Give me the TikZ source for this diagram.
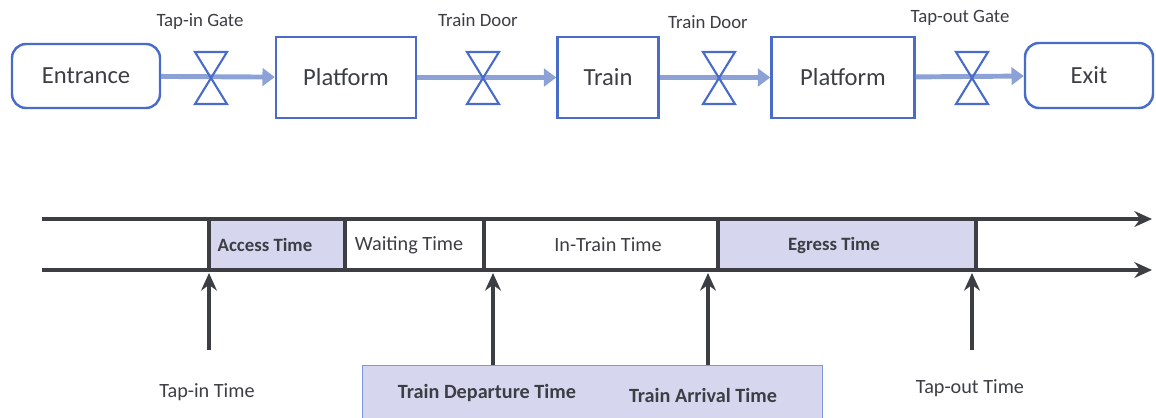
\documentclass[tikz,border=0pt]{standalone}
\usepackage{fontspec}
\setmainfont{Carlito}
\usepackage{tikz}
\usetikzlibrary{positioning,arrows.meta}
\definecolor{FlowBlue}{RGB}{72,108,200}
\definecolor{FlowArrow}{RGB}{140,162,214}
\definecolor{TimeGray}{RGB}{60,62,68}
\definecolor{LavFill}{RGB}{214,214,238}
\tikzset{place/.style={rectangle,draw=FlowBlue,line width=1.4pt,text=TimeGray,font=\fontsize{14}{16}\selectfont},
  endpt/.style={place,rounded corners=8pt},
  flow/.style={draw=FlowArrow,line width=2.8pt,-{Triangle[length=7pt,width=10pt]}},
  gate/.style={draw=FlowBlue,line width=1.2pt,line join=miter},
  gatelab/.style={text=TimeGray,font=\fontsize{10.7}{12}\selectfont},
  rail/.style={draw=TimeGray,line width=2.2pt},
  seg/.style={draw=TimeGray,line width=2.2pt},
  upar/.style={draw=TimeGray,line width=2.2pt,-{Stealth[length=10pt,width=9pt]}},
  tlab/.style={text=TimeGray,font=\fontsize{11.5}{13}\selectfont},
  tbold/.style={text=TimeGray,font=\fontsize{10.7}{13}\selectfont\bfseries}}

\begin{document}
\begin{tikzpicture}[x=0.2mm,y=-0.2mm]
\useasboundingbox (0,0) rectangle (1156,417);
% flow through the station
\node[endpt,minimum width=29.6mm,minimum height=12.8mm] (entr) at (86,76) {Entrance};
\node[place,minimum width=28mm,minimum height=16.2mm] (plat1) at (346,77.5) {Platform};
\node[place,minimum width=20.2mm,minimum height=16.2mm] (train) at (608,77.5) {Train};
\node[place,minimum width=28.6mm,minimum height=16.2mm] (plat2) at (843,77.5) {Platform};
\node[endpt,minimum width=25.6mm,minimum height=13mm] (exit) at (1089,75.5) {Exit};
\draw[flow] (entr) -- (plat1);
\draw[flow] (plat1) -- (train);
\draw[flow] (train) -- (plat2);
\draw[flow] (plat2) -- (exit);
\coordinate (g1) at (211,78);
\coordinate (g2) at (483,78);
\coordinate (g3) at (719,78);
\coordinate (g4) at (972,78);
\draw[gate] (g1) ++(-16,-26) -- ++(32,0) -- ++(-32,52) -- ++(32,0) -- cycle;
\draw[gate] (g2) ++(-16,-26) -- ++(32,0) -- ++(-32,52) -- ++(32,0) -- cycle;
\draw[gate] (g3) ++(-16,-26) -- ++(32,0) -- ++(-32,52) -- ++(32,0) -- cycle;
\draw[gate] (g4) ++(-16,-26) -- ++(32,0) -- ++(-32,52) -- ++(32,0) -- cycle;
\node[gatelab] (tig) at (200,22) {Tap-in Gate};
\node[gatelab] (td1) at (478,20) {Train Door};
\node[gatelab] (td2) at (708,22) {Train Door};
\node[gatelab] (tog) at (960,18) {Tap-out Gate};
% time line
\coordinate (ta) at (42,219);
\coordinate (tb) at (1152,219);
\coordinate (ba) at (42,270);
\coordinate (bb) at (1152,270);
\draw[seg,fill=LavFill] (209,219) rectangle (345,270);
\draw[seg] (345,219) rectangle (484,270);
\draw[seg] (484,219) rectangle (718,270);
\draw[seg,fill=LavFill] (718,219) rectangle (976,270);
\node[tbold] (acc) at (265,245) {Access Time};
\node[tlab] (wait) at (409,245) {Waiting Time};
\node[tlab] (intr) at (608,245) {In-Train Time};
\node[tbold] (egr) at (834,245) {Egress Time};
\draw[rail,-{Stealth[length=10pt,width=9pt]}] (ta) -- (tb);
\draw[rail,-{Stealth[length=10pt,width=9pt]}] (ba) -- (bb);
% events
\node[draw=FlowBlue!70,fill=LavFill,line width=0.6pt,minimum width=92mm,minimum height=11mm,anchor=north west] (trbox) at (362,365) {};
\node[tbold,font=\fontsize{11.5}{13}\selectfont\bfseries] (dep) at (487,393) {Train Departure Time};
\node[tbold,font=\fontsize{11.5}{13}\selectfont\bfseries] (arr) at (703,395) {Train Arrival Time};
\node[tlab] (tin) at (207,392) {Tap-in Time};
\node[tlab] (tout) at (970,388) {Tap-out Time};
\coordinate (e1a) at (209,350);
\coordinate (e1b) at (209,273);
\coordinate (e2b) at (493,273);
\coordinate (e3b) at (708,273);
\coordinate (e4a) at (972,350);
\coordinate (e4b) at (972,273);
\draw[upar] (e1a) -- (e1b);
\draw[upar] (trbox.north -| e2b) -- (e2b);
\draw[upar] (trbox.north -| e3b) -- (e3b);
\draw[upar] (e4a) -- (e4b);
\end{tikzpicture}
\end{document}
